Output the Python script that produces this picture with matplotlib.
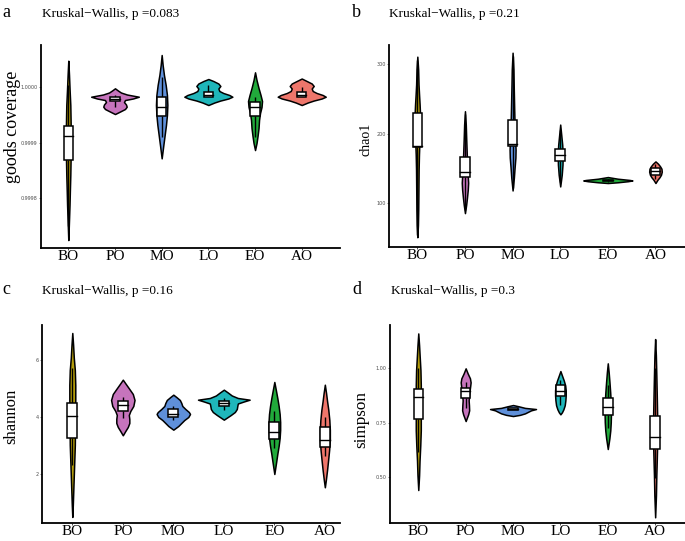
import matplotlib
matplotlib.use("Agg")
import matplotlib.pyplot as plt
from matplotlib.patches import Rectangle
from matplotlib.ticker import FormatStrFormatter

groups = ["BO", "PO", "MO", "LO", "EO", "AO"]
fills = ["#B39C0B", "#C674BC", "#5F90DA", "#1FB6BA", "#21AA3B", "#EE766B"]

# a: goods coverage -- violin outline (value levels, half widths) + box stats
goods_levels = [
    [1.0000481, 1.0000222, 0.9999951, 0.9999680, 0.9999409, 0.9999138, 0.9998866,
     0.9998686, 0.9998414, 0.9998143, 0.9997872, 0.9997601, 0.9997239],
    [0.9999982, 0.9999942, 0.9999906, 0.9999870, 0.9999830, 0.9999798, 0.9999770,
     0.9999734, 0.9999689, 0.9999649, 0.9999608, 0.9999562, 0.9999517],
    [1.0000584, 1.0000403, 1.0000222, 1.0000042, 0.9999861, 0.9999680, 0.9999499,
     0.9999318, 0.9999138, 0.9998957, 0.9998716],
    [1.0000150, 1.0000114, 1.0000069, 1.0000024, 0.9999978, 0.9999933, 0.9999897,
     0.9999861, 0.9999830, 0.9999798, 0.9999761, 0.9999725, 0.9999680],
    [1.0000271, 1.0000132, 0.9999987, 0.9999861, 0.9999752, 0.9999644, 0.9999535,
     0.9999409, 0.9999264, 0.9999120, 0.9998993, 0.9998866],
    [1.0000159, 1.0000114, 1.0000069, 1.0000024, 0.9999978, 0.9999933, 0.9999897,
     0.9999861, 0.9999830, 0.9999798, 0.9999761, 0.9999725, 0.9999680],
]
goods_widths = [
    [0, .015, .028, .043, .049, .054, .054, .049, .043, .034, .026, .015, 0],
    [0, .064, .128, .257, .510, .385, .214, .193, .236, .251, .214, .107, 0],
    [0, .021, .049, .086, .113, .122, .113, .092, .064, .036, 0],
    [0, .107, .214, .257, .214, .236, .321, .450, .514, .428, .257, .128, 0],
    [0, .032, .075, .118, .150, .139, .107, .086, .075, .054, .032, 0],
    [0, .107, .214, .257, .214, .236, .321, .450, .514, .428, .257, .128, 0],
]
goods_boxes = [
    [0.9998686, 0.9999125, 0.9999300],
    [0.9999752, 0.9999788, 0.9999830],
    [0.9999481, 0.9999649, 0.9999830],
    [0.9999830, 0.9999870, 0.9999915],
    [0.9999481, 0.9999649, 0.9999740],
    [0.9999830, 0.9999860, 0.9999910],
]
goods_whiskers = [
    [0.9997500, 1.0000042], [0.9999650, 0.9999870], [0.9999107, 1.0000192],
    [0.9999830, 1.0000042], [0.9999107, 0.9999820], [0.9999830, 1.0000000],
]

# b: chao1
chao_levels = [
    [310.7, 292.4, 270.7, 256.3, 241.8, 227.4, 213.0, 198.6, 184.1, 169.7, 148.1, 119.2, 90.3, 68.7, 50.9],
    [232.2, 213.0, 191.3, 169.7, 155.3, 140.8, 129.3, 119.2, 107.6, 97.5, 85.6],
    [316.4, 292.4, 263.5, 234.6, 213.0, 191.3, 176.9, 165.4, 150.9, 136.5, 118.2],
    [213.0, 198.6, 184.1, 169.7, 155.3, 140.8, 124.0],
    [137.5, 135.1, 133.3, 132.6, 131.5, 130.0, 128.9],
    [160.0, 156.7, 153.1, 149.5, 145.2, 140.8, 137.2, 133.6, 128.9],
]
chao_widths = [
    [0, .017, .025, .036, .048, .057, .059, .053, .042, .034, .027, .023, .019, .013, 0],
    [0, .017, .027, .038, .046, .057, .067, .059, .042, .025, 0],
    [0, .017, .025, .034, .042, .055, .063, .059, .042, .027, 0],
    [0, .021, .042, .053, .048, .032, 0],
    [0, .210, .462, .515, .420, .210, 0],
    [0, .053, .095, .126, .132, .116, .084, .042, 0],
]
chao_boxes = [
    [180.2, 181.5, 229.9], [137.5, 144.7, 166.4], [181.7, 185.6, 220.2],
    [160.0, 168.7, 178.4], [131.8, 132.6, 133.4], [140.8, 145.6, 150.5],
]
chao_whiskers = [
    [54.0, 306.0], [90.0, 228.0], [122.0, 312.0],
    [131.0, 205.0], [130.8, 134.5], [134.0, 156.0],
]

# c: shannon
shannon_levels = [
    [6.963, 6.540, 6.081, 5.658, 5.129, 4.600, 4.071, 3.541, 3.012, 2.483, 1.954, 1.425, 0.896, 0.473],
    [5.316, 5.164, 4.988, 4.811, 4.600, 4.388, 4.212, 4.071, 3.929, 3.788, 3.647, 3.506, 3.354],
    [4.787, 4.705, 4.600, 4.494, 4.388, 4.282, 4.176, 4.106, 4.000, 3.894, 3.788, 3.682, 3.552],
    [4.963, 4.864, 4.758, 4.670, 4.610, 4.547, 4.476, 4.388, 4.282, 4.176, 4.071, 3.905],
    [5.235, 4.952, 4.670, 4.388, 4.106, 3.824, 3.541, 3.259, 2.977, 2.695, 2.413, 1.989],
    [5.139, 4.847, 4.564, 4.247, 3.894, 3.541, 3.189, 2.836, 2.483, 2.130, 1.778, 1.520],
]
shannon_widths = [
    [0, .016, .030, .050, .059, .059, .055, .053, .050, .040, .030, .020, .010, 0],
    [0, .059, .129, .198, .232, .208, .149, .119, .129, .129, .099, .050, 0],
    [0, .059, .129, .158, .178, .238, .307, .331, .297, .218, .158, .099, 0],
    [0, .079, .158, .277, .511, .396, .277, .267, .257, .218, .139, 0],
    [0, .030, .059, .085, .105, .115, .115, .105, .085, .059, .036, 0],
    [0, .024, .044, .069, .089, .099, .099, .085, .065, .044, .020, 0],
]
shannon_boxes = [
    [3.259, 4.046, 4.494], [4.201, 4.413, 4.575], [3.989, 4.116, 4.282],
    [4.399, 4.480, 4.554], [3.235, 3.460, 3.824], [2.942, 3.178, 3.637],
]
shannon_whiskers = [
    [2.318, 5.730], [3.965, 4.695], [3.905, 4.377],
    [4.257, 4.670], [2.906, 4.201], [2.614, 4.000],
]

# d: simpson
simpson_levels = [
    [1.158, 1.1035, 1.0440, 0.9891, 0.9206, 0.8520, 0.7834, 0.7148, 0.6462, 0.5776, 0.5090, 0.4418],
    [0.9983, 0.9754, 0.9526, 0.9343, 0.9160, 0.8977, 0.8749, 0.8520, 0.8292, 0.8063, 0.7880, 0.7573],
    [0.8305, 0.8243, 0.8174, 0.8122, 0.8063, 0.7994, 0.7925, 0.7857, 0.7802],
    [0.9859, 0.9663, 0.9434, 0.9206, 0.8977, 0.8749, 0.8520, 0.8292, 0.8109, 0.7972, 0.7880],
    [1.0212, 0.9800, 0.9343, 0.8886, 0.8428, 0.7971, 0.7514, 0.7148, 0.6782, 0.6293],
    [1.1323, 1.0577, 0.9663, 0.8749, 0.7834, 0.7148, 0.6462, 0.5776, 0.5090, 0.4176, 0.3170],
]
simpson_widths = [
    [0, .017, .032, .046, .053, .053, .053, .053, .042, .027, .017, 0],
    [0, .042, .091, .105, .095, .084, .074, .063, .070, .074, .053, 0],
    [0, .127, .253, .485, .380, .316, .253, .148, 0],
    [0, .032, .070, .101, .112, .112, .105, .091, .063, .032, 0],
    [0, .019, .036, .051, .063, .068, .063, .053, .034, 0],
    [0, .015, .025, .034, .042, .046, .042, .034, .025, .017, 0],
]
simpson_boxes = [
    [0.7651, 0.8657, 0.9023], [0.8611, 0.8945, 0.9068], [0.8065, 0.8105, 0.8155],
    [0.8716, 0.8945, 0.9219], [0.7848, 0.8232, 0.8611], [0.6279, 0.6860, 0.7820],
]
simpson_whiskers = [
    [0.6174, 0.9983], [0.8154, 0.9375], [0.8065, 0.8155],
    [0.8305, 0.9448], [0.7239, 0.9219], [0.4953, 0.9983],
]

pvalues = ["0.083", "0.21", "0.16", "0.3"]

W, H = 685, 541
SERIF = "Liberation Serif"


def fx(px):
    return px / W


def fy(py):
    return 1 - py / H


def draw_violins(ax, levels, widths, boxes, whiskers, box_w=0.2):
    for i in range(len(groups)):
        x = i + 1
        lv, wd = levels[i], widths[i]
        ax.fill_betweenx(lv, [x - w for w in wd], [x + w for w in wd],
                         facecolor=fills[i], edgecolor="black", linewidth=1.1, zorder=2)
        lo, hi = whiskers[i]
        q1, med, q3 = boxes[i]
        ax.plot([x, x], [lo, q1], color="black", lw=1.0, zorder=3, solid_capstyle="butt")
        ax.plot([x, x], [q3, hi], color="black", lw=1.0, zorder=3, solid_capstyle="butt")
        ax.add_patch(Rectangle((x - box_w / 2, q1), box_w, q3 - q1, facecolor="white",
                               edgecolor="black", lw=1.1, zorder=4))
        ax.plot([x - box_w / 2, x + box_w / 2], [med, med], color="black", lw=1.0, zorder=5)


fig = plt.figure(figsize=(W / 100, H / 100), dpi=100)

panels = [
    dict(rect=(41, 45, 340, 248), xlim=(0.415, 6.82), ylim=(0.99970958, 1.0000765),
         ticks=[0.9998, 0.9999, 1.0], fmt="%.4f", data=(goods_levels, goods_widths, goods_boxes, goods_whiskers),
         ylabel="goods coverage", ylab_xy=(12.5, 127), ylab_size=13,
         letter="a", letter_xy=(2, 16.7), title_xy=(41.7, 16.7)),
    dict(rect=(389, 45, 685, 246.7), xlim=(0.405, 6.62), ylim=(37.3, 327.5),
         ticks=[100, 200, 300], fmt="%d", data=(chao_levels, chao_widths, chao_boxes, chao_whiskers),
         ylabel="chao1", ylab_xy=(366.5, 139), ylab_size=10,
         letter="b", letter_xy=(352, 16.7), title_xy=(389.3, 16.7)),
    dict(rect=(42, 325, 340, 523), xlim=(0.4, 6.3), ylim=(0.26, 7.245),
         ticks=[2, 4, 6], fmt="%d", data=(shannon_levels, shannon_widths, shannon_boxes, shannon_whiskers),
         ylabel="shannon", ylab_xy=(11, 416), ylab_size=12,
         letter="c", letter_xy=(2.5, 294), title_xy=(41.7, 294)),
    dict(rect=(390, 325, 685, 523), xlim=(0.403, 6.63), ylim=(0.291, 1.1966),
         ticks=[0.5, 0.75, 1.0], fmt="%.2f", data=(simpson_levels, simpson_widths, simpson_boxes, simpson_whiskers),
         ylabel="simpson", ylab_xy=(361, 420), ylab_size=12.3,
         letter="d", letter_xy=(352.5, 294), title_xy=(390.7, 294)),
]

for k, p in enumerate(panels):
    x0, y0, x1, y1 = p["rect"]
    ax = fig.add_axes([fx(x0), fy(y1), (x1 - x0) / W, (y1 - y0) / H])
    draw_violins(ax, *p["data"])
    ax.set_xlim(*p["xlim"])
    ax.set_ylim(*p["ylim"])
    ax.set_xticks(range(1, len(groups) + 1))
    ax.set_xticklabels(groups, fontsize=11, fontfamily=SERIF, color="black")
    ax.set_yticks(p["ticks"])
    ax.yaxis.set_major_formatter(FormatStrFormatter(p["fmt"]))
    ax.tick_params(axis="y", labelsize=3.5, colors="#4D4D4D", length=1.5, width=0.5, pad=1)
    ax.tick_params(axis="x", length=1.5, width=0.6, color="#333333", pad=0)
    for s in ["top", "right"]:
        ax.spines[s].set_visible(False)
    for s in ["left", "bottom"]:
        ax.spines[s].set_linewidth(1.3)
        ax.spines[s].set_color("black")
    lx, ly = p["ylab_xy"]
    fig.text(fx(lx), fy(ly), p["ylabel"], rotation=90, ha="center", va="center",
             fontsize=p["ylab_size"], fontfamily=SERIF)
    tx, ty = p["letter_xy"]
    fig.text(fx(tx), fy(ty), p["letter"], ha="left", va="baseline", fontsize=13, fontfamily=SERIF)
    tx, ty = p["title_xy"]
    fig.text(fx(tx), fy(ty), "Kruskal\u2212Wallis, p =" + pvalues[k], ha="left", va="baseline",
             fontsize=9.5, fontfamily=SERIF)

fig.savefig("out.png", dpi=100)
